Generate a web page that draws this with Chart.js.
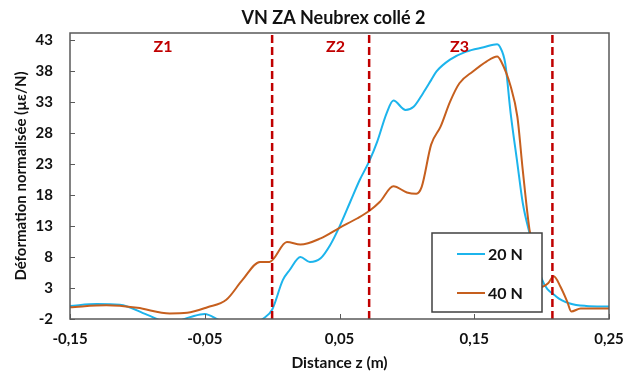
<!DOCTYPE html>
<html>
<head>
<meta charset="utf-8">
<script src="https://cdn.jsdelivr.net/npm/chart.js@4.4.1/dist/chart.umd.min.js"></script>
<style>
  html, body { margin: 0; padding: 0; background: #fff; }
</style>
</head>
<body>
<canvas id="chart" width="623" height="372"></canvas>
<script>
// distance z (m) and normalised strain (µε/N)
var blueZ = [-0.15, -0.13, -0.113, -0.093, -0.076, -0.061, -0.05, -0.039, -0.024, -0.013,
  -0.007, 0, 0.008, 0.013, 0.021, 0.028, 0.036, 0.043, 0.05, 0.058,
  0.065, 0.072, 0.078, 0.085, 0.09, 0.099, 0.105, 0.112, 0.118, 0.122,
  0.132, 0.144, 0.157, 0.167, 0.169, 0.173, 0.177, 0.182, 0.186, 0.191,
  0.196, 0.2, 0.211, 0.221, 0.233, 0.25];
var blue20 = [0.1, 0.4, 0.3, -1.3, -2.6, -1.7, -1.2, -2.2, -3, -3,
  -2, -0.5, 4.3, 5.9, 8, 7.2, 7.8, 9.9, 12.9, 16.9,
  20.4, 23.4, 26.6, 31.2, 33.2, 31.7, 32.2, 34.4, 36.5, 37.9,
  39.8, 41.1, 41.8, 42.3, 41.9, 39.2, 31.2, 23.1, 16.7, 11.9,
  8, 4.5, 1.6, 0.5, 0.1, 0];

var orangeZ = [-0.15, -0.123, -0.1, -0.076, -0.063, -0.048, -0.034, -0.022, -0.009, -0.002,
  0.011, 0.021, 0.036, 0.05, 0.063, 0.072, 0.08, 0.09, 0.1, 0.107,
  0.111, 0.118, 0.125, 0.132, 0.139, 0.149, 0.159, 0.167, 0.17, 0.177,
  0.182, 0.186, 0.191, 0.196, 0.2, 0.205, 0.209, 0.214, 0.219, 0.222,
  0.229, 0.25];
var orange40 = [-0.1, 0.2, -0.2, -1.1, -1, -0.1, 1.1, 4.3, 7.2, 7.2,
  10.4, 10, 11, 12.7, 14.2, 15.4, 16.9, 19.4, 18.4, 18.2,
  19.3, 26.1, 29, 33, 36, 37.9, 39.5, 40.3, 39.5, 35.5,
  30.6, 22, 12.4, 7.2, 3.2, 3.8, 4.9, 3.2, 0.8, -0.8,
  -0.3, -0.3];

var seriesNames = ['20 N', '40 N'];
var yTicks = [-2, 3, 8, 13, 18, 23, 28, 33, 38, 43];
var xTicks = [-0.15, -0.05, 0.05, 0.15, 0.25];
var zoneBounds = [0, 0.072, 0.208];
var zoneNames = ['Z1', 'Z2', 'Z3'];
var zoneLabelZ = [-0.081, 0.047, 0.139];

var blue = '#1CB4EC';
var orange = '#C65F1E';
var red = '#C00000';
var yMin = -2, yMax = 44.1;

function pts(xs, ys) {
  var out = [];
  for (var i = 0; i < xs.length; i++) out.push({x: xs[i], y: ys[i]});
  return out;
}

var datasets = [{
  label: seriesNames[0],
  data: pts(blueZ, blue20),
  borderColor: blue,
  borderWidth: 2,
  cubicInterpolationMode: 'monotone',
  order: 2
}, {
  label: seriesNames[1],
  data: pts(orangeZ, orange40),
  borderColor: orange,
  borderWidth: 2,
  cubicInterpolationMode: 'monotone',
  order: 1
}];

zoneBounds.forEach(function(z) {
  datasets.push({
    label: 'zone',
    data: [{x: z, y: yMin}, {x: z, y: yMax}],
    borderColor: red,
    borderWidth: 2.5,
    borderDash: [8, 4],
    order: 0
  });
});

var extras = {
  id: 'extras',
  afterDatasetsDraw: function(chart) {
    var ctx = chart.ctx, a = chart.chartArea;
    var xs = chart.scales.x, ys = chart.scales.y;
    ctx.save();
    // zone labels
    ctx.fillStyle = red;
    ctx.font = 'bold 16px Lato';
    ctx.textAlign = 'center';
    ctx.textBaseline = 'middle';
    for (var i = 0; i < zoneNames.length; i++) {
      ctx.fillText(zoneNames[i], xs.getPixelForValue(zoneLabelZ[i]), ys.getPixelForValue(41.9));
    }
    // legend box
    var bx = a.left + 362, by = a.top + 200, bw = 110, bh = 79;
    ctx.fillStyle = '#fff';
    ctx.fillRect(bx, by, bw, bh);
    ctx.strokeStyle = '#404040';
    ctx.lineWidth = 1.5;
    ctx.strokeRect(bx, by, bw, bh);
    var cols = [blue, orange];
    for (var j = 0; j < 2; j++) {
      var ly = by + 21 + j * 39;
      ctx.strokeStyle = cols[j];
      ctx.lineWidth = 2;
      ctx.beginPath();
      ctx.moveTo(bx + 25, ly);
      ctx.lineTo(bx + 53, ly);
      ctx.stroke();
      ctx.fillStyle = '#111';
      ctx.font = 'bold 16px Lato';
      ctx.textAlign = 'left';
      ctx.fillText(seriesNames[j], bx + 56, ly + 1);
    }
    ctx.restore();
  },
  afterDraw: function(chart) {
    var ctx = chart.ctx, a = chart.chartArea;
    var xs = chart.scales.x, ys = chart.scales.y;
    ctx.save();
    // plot frame
    ctx.strokeStyle = '#595959';
    ctx.lineWidth = 1.5;
    ctx.strokeRect(a.left, a.top, a.right - a.left, a.bottom - a.top);
    // inner tick marks
    ctx.lineWidth = 1;
    ctx.beginPath();
    yTicks.forEach(function(v) {
      var p = Math.round(ys.getPixelForValue(v)) + 0.5;
      ctx.moveTo(a.left, p);
      ctx.lineTo(a.left + 5, p);
    });
    xTicks.forEach(function(v) {
      var p = Math.round(xs.getPixelForValue(v)) + 0.5;
      ctx.moveTo(p, a.bottom);
      ctx.lineTo(p, a.bottom - 5);
    });
    ctx.stroke();
    // title
    ctx.fillStyle = '#111';
    ctx.font = 'bold 18px Lato';
    ctx.textAlign = 'center';
    ctx.textBaseline = 'middle';
    ctx.fillText('VN ZA Neubrex collé 2', (a.left + a.right) / 2 - 6, 18);
    ctx.restore();
  }
};

var ctx = document.getElementById('chart').getContext('2d');
Chart.defaults.font.family = 'Lato';
Chart.defaults.color = '#111';

var myChart = new Chart(ctx, {
  type: 'scatter',
  data: { datasets: datasets },
  options: {
    responsive: false,
    animation: false,
    showLine: true,
    elements: { point: { radius: 0, hoverRadius: 0 } },
    layout: { padding: { top: 33, right: 14, left: 0, bottom: 0 } },
    plugins: {
      legend: { display: false },
      tooltip: { enabled: false }
    },
    scales: {
      x: {
        type: 'linear',
        min: -0.15,
        max: 0.25,
        grid: { display: false, drawTicks: false },
        border: { display: false },
        afterBuildTicks: function(scale) {
          scale.ticks = xTicks.map(function(v) { return {value: v}; });
        },
        afterFit: function(scale) {
          scale.height = 53;
          scale.paddingLeft = 0;
          scale.paddingRight = 0;
        },
        ticks: {
          padding: 11,
          maxRotation: 0,
          font: { size: 15, weight: 'bold' },
          callback: function(v) { return v.toFixed(2).replace('.', ','); }
        },
        title: {
          display: true,
          text: 'Distance z (m)',
          font: { size: 15.5, weight: 'bold' },
          padding: { top: 0, bottom: 0 }
        }
      },
      y: {
        min: yMin,
        max: yMax,
        grid: { display: false, drawTicks: false },
        border: { display: false },
        afterBuildTicks: function(scale) {
          scale.ticks = yTicks.map(function(v) { return {value: v}; });
        },
        afterFit: function(scale) { scale.width = 70; },
        ticks: {
          padding: 17,
          font: { size: 15, weight: 'bold' }
        },
        title: {
          display: true,
          text: 'Déformation normalisée (µε/N)',
          font: { size: 15, weight: 'bold' },
          padding: { top: 12, bottom: 0 }
        }
      }
    }
  },
  plugins: [extras]
});
</script>
</body>
</html>
